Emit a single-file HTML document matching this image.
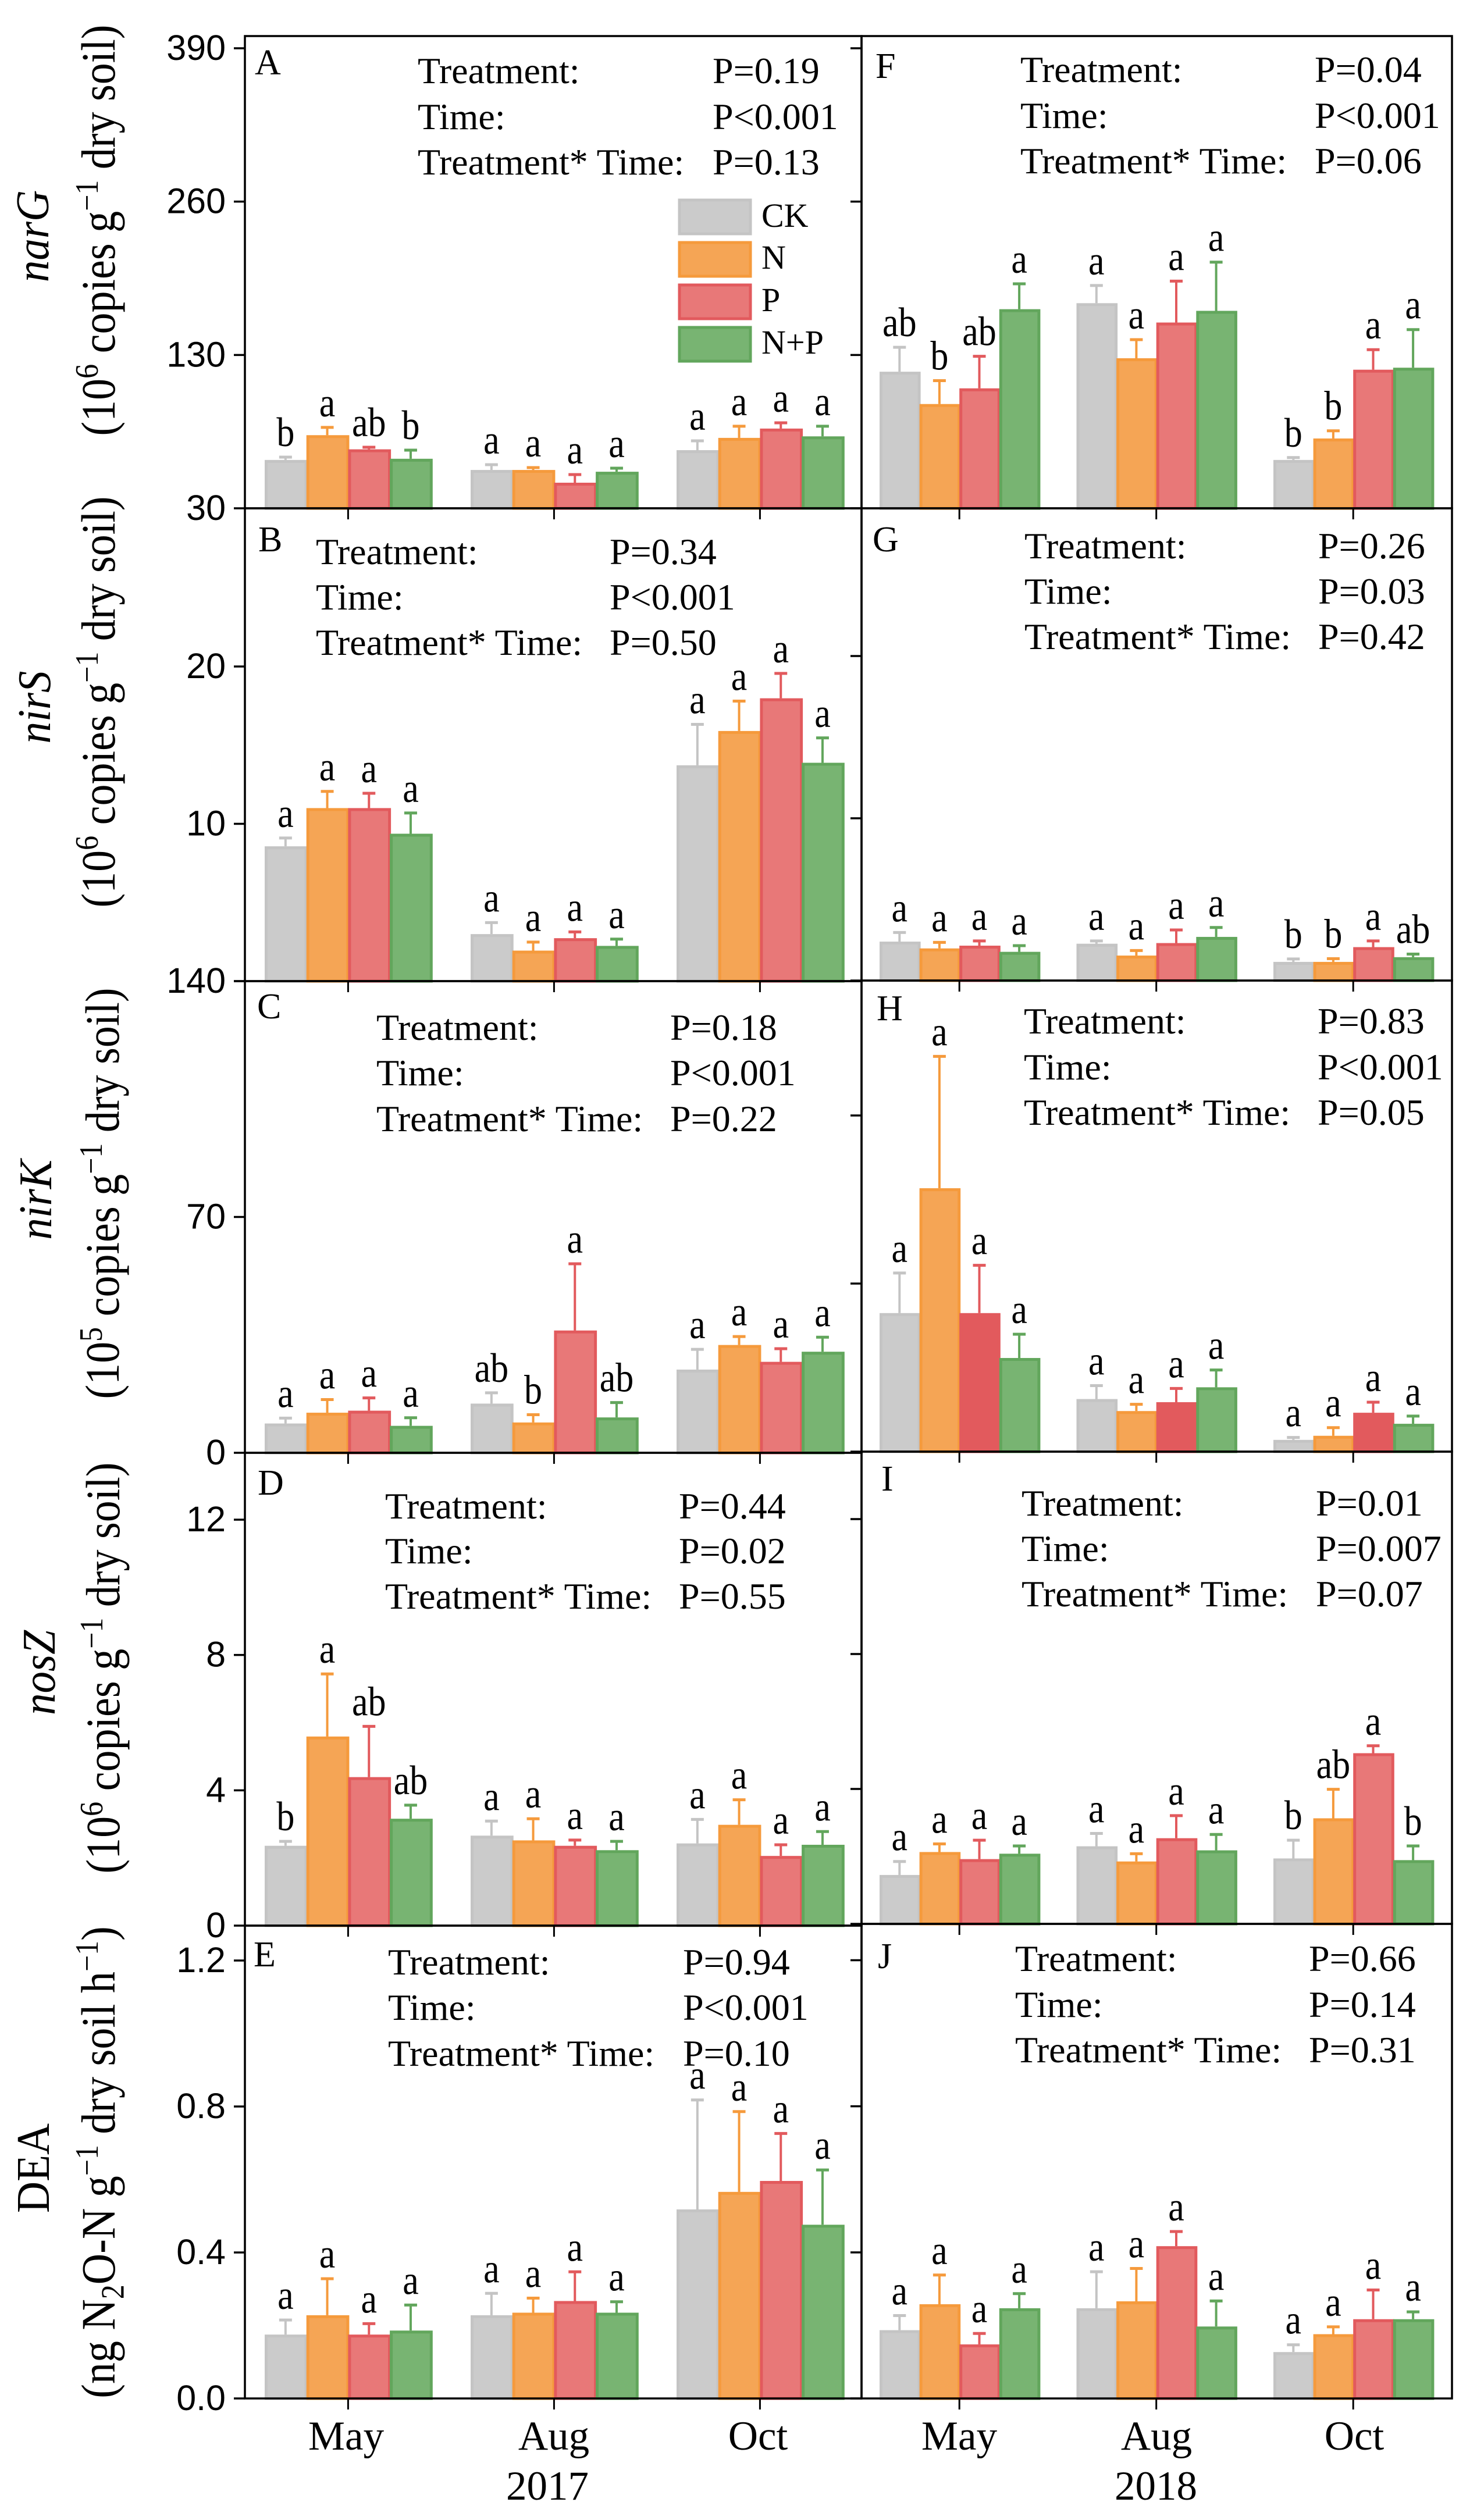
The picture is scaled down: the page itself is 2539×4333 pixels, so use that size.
<!DOCTYPE html>
<html lang="en">
<head>
<meta charset="utf-8">
<title>Denitrifying gene abundance and DEA, 2017 and 2018</title>
<style>
  html, body { margin: 0; padding: 0; background: #ffffff; }
  svg { display: block; }
  text { font-family: "Liberation Serif", serif; fill: #000; }
  .st { font-size: 64px; }
  .pl { font-size: 62px; }
  .lg { font-size: 58px; }
  .yl { font-size: 74px; }
  .gn { font-size: 75px; font-style: italic; }
  .xl { font-size: 71px; }
  .tk { font-family: "Liberation Sans", sans-serif; font-size: 61px; }
  .lt { font-size: 62px; }
</style>
</head>
<body>
<svg id="figure" xmlns="http://www.w3.org/2000/svg" width="2539" height="4333" viewBox="0 0 2539 4333">
  <rect x="0" y="0" width="2539" height="4333" fill="#ffffff"/>
  <g id="marks"></g>

  <g>
    <text class="gn" text-anchor="middle" transform="translate(83,406) rotate(-90) scale(1,1.08)">narG</text>
    <text class="yl" text-anchor="middle" transform="translate(197,396) rotate(-90) scale(1,1.12)">(10<tspan dy="-26" font-size="50">6</tspan><tspan dy="26"> copies g</tspan><tspan dy="-26" font-size="50">−1</tspan><tspan dy="26"> dry soil)</tspan></text>
    <text class="gn" text-anchor="middle" transform="translate(86,1216) rotate(-90) scale(1,1.08)">nirS</text>
    <text class="yl" text-anchor="middle" transform="translate(197,1207) rotate(-90) scale(1,1.12)">(10<tspan dy="-26" font-size="50">6</tspan><tspan dy="26"> copies g</tspan><tspan dy="-26" font-size="50">−1</tspan><tspan dy="26"> dry soil)</tspan></text>
    <text class="gn" text-anchor="middle" transform="translate(88,2063) rotate(-90) scale(1,1.08)">nirK</text>
    <text class="yl" text-anchor="middle" transform="translate(204,2052) rotate(-90) scale(1,1.12)">(10<tspan dy="-26" font-size="50">5</tspan><tspan dy="26"> copies g</tspan><tspan dy="-26" font-size="50">−1</tspan><tspan dy="26"> dry soil)</tspan></text>
    <text class="gn" text-anchor="middle" transform="translate(94,2876) rotate(-90) scale(1,1.08)">nosZ</text>
    <text class="yl" text-anchor="middle" transform="translate(205,2868) rotate(-90) scale(1,1.12)">(10<tspan dy="-26" font-size="50">6</tspan><tspan dy="26"> copies g</tspan><tspan dy="-26" font-size="50">−1</tspan><tspan dy="26"> dry soil)</tspan></text>
    <text class="gn" style="font-style:normal" text-anchor="middle" transform="translate(84,3728) rotate(-90) scale(1,1.08)">DEA</text>
    <text class="yl" text-anchor="middle" transform="translate(197,3718) rotate(-90) scale(1,1.12)">(ng N<tspan dy="14" font-size="50">2</tspan><tspan dy="-14">O-N g</tspan><tspan dy="-26" font-size="50">−1</tspan><tspan dy="26"> dry soil h</tspan><tspan dy="-26" font-size="50">−1</tspan><tspan dy="26">)</tspan></text>
  </g>

  <g>
    <text class="pl" x="438" y="128">A</text>
    <text class="pl" x="444" y="948">B</text>
    <text class="pl" x="442" y="1751">C</text>
    <text class="pl" x="443" y="2570">D</text>
    <text class="pl" x="436" y="3381">E</text>
    <text class="pl" x="1505" y="134">F</text>
    <text class="pl" x="1500" y="948">G</text>
    <text class="pl" x="1507" y="1754">H</text>
    <text class="pl" x="1515" y="2563">I</text>
    <text class="pl" x="1509" y="3384">J</text>
  </g>

  <g>
    <text class="st" x="718" y="143">Treatment:</text>
    <text class="st" x="718" y="222">Time:</text>
    <text class="st" x="718" y="300">Treatment* Time:</text>
    <text class="st" x="1225" y="143">P=0.19</text>
    <text class="st" x="1225" y="222">P&lt;0.001</text>
    <text class="st" x="1225" y="300">P=0.13</text>

    <text class="st" x="1754" y="141">Treatment:</text>
    <text class="st" x="1754" y="220">Time:</text>
    <text class="st" x="1754" y="298">Treatment* Time:</text>
    <text class="st" x="2260" y="141">P=0.04</text>
    <text class="st" x="2260" y="220">P&lt;0.001</text>
    <text class="st" x="2260" y="298">P=0.06</text>

    <text class="st" x="543" y="970">Treatment:</text>
    <text class="st" x="543" y="1048">Time:</text>
    <text class="st" x="543" y="1126">Treatment* Time:</text>
    <text class="st" x="1048" y="970">P=0.34</text>
    <text class="st" x="1048" y="1048">P&lt;0.001</text>
    <text class="st" x="1048" y="1126">P=0.50</text>

    <text class="st" x="1761" y="960">Treatment:</text>
    <text class="st" x="1761" y="1038">Time:</text>
    <text class="st" x="1761" y="1116">Treatment* Time:</text>
    <text class="st" x="2266" y="960">P=0.26</text>
    <text class="st" x="2266" y="1038">P=0.03</text>
    <text class="st" x="2266" y="1116">P=0.42</text>

    <text class="st" x="647" y="1788">Treatment:</text>
    <text class="st" x="647" y="1866">Time:</text>
    <text class="st" x="647" y="1945">Treatment* Time:</text>
    <text class="st" x="1152" y="1788">P=0.18</text>
    <text class="st" x="1152" y="1866">P&lt;0.001</text>
    <text class="st" x="1152" y="1945">P=0.22</text>

    <text class="st" x="1760" y="1777">Treatment:</text>
    <text class="st" x="1760" y="1856">Time:</text>
    <text class="st" x="1760" y="1934">Treatment* Time:</text>
    <text class="st" x="2265" y="1777">P=0.83</text>
    <text class="st" x="2265" y="1856">P&lt;0.001</text>
    <text class="st" x="2265" y="1934">P=0.05</text>

    <text class="st" x="662" y="2611">Treatment:</text>
    <text class="st" x="662" y="2688">Time:</text>
    <text class="st" x="662" y="2766">Treatment* Time:</text>
    <text class="st" x="1167" y="2611">P=0.44</text>
    <text class="st" x="1167" y="2688">P=0.02</text>
    <text class="st" x="1167" y="2766">P=0.55</text>

    <text class="st" x="1756" y="2606">Treatment:</text>
    <text class="st" x="1756" y="2684">Time:</text>
    <text class="st" x="1756" y="2762">Treatment* Time:</text>
    <text class="st" x="2262" y="2606">P=0.01</text>
    <text class="st" x="2262" y="2684">P=0.007</text>
    <text class="st" x="2262" y="2762">P=0.07</text>

    <text class="st" x="667" y="3395">Treatment:</text>
    <text class="st" x="667" y="3473">Time:</text>
    <text class="st" x="667" y="3552">Treatment* Time:</text>
    <text class="st" x="1174" y="3395">P=0.94</text>
    <text class="st" x="1174" y="3473">P&lt;0.001</text>
    <text class="st" x="1174" y="3552">P=0.10</text>

    <text class="st" x="1745" y="3389">Treatment:</text>
    <text class="st" x="1745" y="3468">Time:</text>
    <text class="st" x="1745" y="3546">Treatment* Time:</text>
    <text class="st" x="2250" y="3389">P=0.66</text>
    <text class="st" x="2250" y="3468">P=0.14</text>
    <text class="st" x="2250" y="3546">P=0.31</text>
  </g>

  <g>
    <rect x="1168" y="344" width="122" height="58" fill="#CBCBCB" stroke="#C4C4C4" stroke-width="5"/>
    <text class="lg" x="1309" y="390">CK</text>
    <rect x="1168" y="417" width="122" height="58" fill="#F5A555" stroke="#F59A3C" stroke-width="5"/>
    <text class="lg" x="1309" y="462">N</text>
    <rect x="1168" y="490" width="122" height="58" fill="#E87878" stroke="#E25A5D" stroke-width="5"/>
    <text class="lg" x="1309" y="535">P</text>
    <rect x="1168" y="563" width="122" height="58" fill="#78B472" stroke="#62A65C" stroke-width="5"/>
    <text class="lg" x="1309" y="608">N+P</text>
  </g>

  <g>
    <text class="xl" text-anchor="middle" x="595" y="4212">May</text>
    <text class="xl" text-anchor="middle" x="952" y="4212">Aug</text>
    <text class="xl" text-anchor="middle" x="1303" y="4212">Oct</text>
    <text class="xl" text-anchor="middle" x="1649" y="4212">May</text>
    <text class="xl" text-anchor="middle" x="1988" y="4212">Aug</text>
    <text class="xl" text-anchor="middle" x="2328" y="4212">Oct</text>
    <text class="xl" text-anchor="middle" x="941" y="4298">2017</text>
    <text class="xl" text-anchor="middle" x="1987" y="4298">2018</text>
  </g>
</svg>

<script>
// Chart values. Rows = May, Aug, Oct; columns = CK, N, P, N+P.
const treatments = ['ck', 'n', 'p', 'n-plus-p'];
const months = ['may', 'aug', 'oct'];

const narGTicks = [0, 130, 260, 390];
const narGTickLabels = ['30', '130', '260', '390'];
const nirSTicks = [0, 10, 20];
const nirSTickLabels = ['', '10', '20'];
const nirKTicks = [0, 70, 140];
const nirKTickLabels = ['0', '70', '140'];
const nosZTicks = [0, 4, 8, 12];
const nosZTickLabels = ['0', '4', '8', '12'];
const deaTicks = [0, 0.4, 0.8, 1.2];
const deaTickLabels = ['0.0', '0.4', '0.8', '1.2'];

const meansA = [[41, 62, 50, 42], [32.5, 32.5, 21.7, 31], [49.3, 59.7, 67.6, 61]];
const errorsA = [[2.4, 6.6, 1.8, 7.3], [4.5, 2, 6.9, 3], [7.9, 9.9, 4.9, 8.6]];
const lettersA = [['b', 'a', 'ab', 'b'], ['a', 'a', 'a', 'a'], ['a', 'a', 'a', 'a']];

const meansB = [[8.57, 11, 11, 9.37], [2.99, 1.94, 2.73, 2.24], [13.72, 15.9, 17.98, 13.88]];
const errorsB = [[0.53, 1.06, 0.94, 1.32], [0.73, 0.54, 0.4, 0.43], [2.6, 1.9, 1.58, 1.58]];
const lettersB = [['a', 'a', 'a', 'a'], ['a', 'a', 'a', 'a'], ['a', 'a', 'a', 'a']];

const meansC = [[8.7, 11.9, 12.5, 8], [14.6, 9, 36.3, 10.5], [24.7, 32, 27, 30]];
const errorsC = [[1.6, 3.9, 3.8, 2.4], [3.2, 2.3, 19.8, 4.4], [6, 2.5, 3.9, 4.3]];
const lettersC = [['a', 'a', 'a', 'a'], ['ab', 'b', 'a', 'ab'], ['a', 'a', 'a', 'a']];

const meansD = [[2.36, 5.59, 4.39, 3.16], [2.66, 2.52, 2.36, 2.23], [2.43, 2.98, 2.06, 2.39]];
const errorsD = [[0.13, 1.85, 1.5, 0.4], [0.43, 0.64, 0.17, 0.26], [0.71, 0.74, 0.33, 0.39]];
const lettersD = [['b', 'a', 'ab', 'ab'], ['a', 'a', 'a', 'a'], ['a', 'a', 'a', 'a']];

const meansE = [[0.175, 0.228, 0.175, 0.186], [0.228, 0.235, 0.267, 0.235], [0.518, 0.566, 0.596, 0.476]];
const errorsE = [[0.04, 0.1, 0.03, 0.07], [0.06, 0.04, 0.08, 0.03], [0.3, 0.22, 0.13, 0.15]];
const lettersE = [['a', 'a', 'a', 'a'], ['a', 'a', 'a', 'a'], ['a', 'a', 'a', 'a']];

const meansF = [[115.8, 88.4, 101.7, 168.8], [173.9, 127.2, 157.5, 167.4], [41, 59.2, 117.5, 119.2]];
const errorsF = [[20.7, 19.8, 27.2, 21.5], [15, 15.8, 35.1, 41.3], [2, 6.5, 17, 32.3]];
const lettersF = [['ab', 'b', 'ab', 'a'], ['a', 'a', 'a', 'a'], ['b', 'b', 'a', 'a']];

const meansG = [[2.4, 1.98, 2.15, 1.77], [2.27, 1.54, 2.31, 2.69], [1.15, 1.15, 2.06, 1.44]];
const errorsG = [[0.56, 0.37, 0.29, 0.38], [0.17, 0.31, 0.81, 0.58], [0.18, 0.2, 0.38, 0.19]];
const lettersG = [['a', 'a', 'a', 'a'], ['a', 'a', 'a', 'a'], ['b', 'b', 'a', 'ab']];

const meansH = [[57.7, 109.7, 57.7, 39], [21.9, 16.9, 20.6, 26.8], [4.9, 6.6, 16.2, 11.6]];
const errorsH = [[16.7, 54.9, 19.9, 9.9], [5.6, 2.8, 5.7, 7.2], [1, 3.4, 4.4, 3.2]];
const lettersH = [['a', 'a', 'a', 'a'], ['a', 'a', 'a', 'a'], ['a', 'a', 'a', 'a']];

const meansI = [[1.45, 2.13, 1.92, 2.08], [2.3, 1.85, 2.54, 2.18], [1.94, 3.13, 5.06, 1.89]];
const errorsI = [[0.4, 0.24, 0.56, 0.23], [0.38, 0.23, 0.67, 0.47], [0.54, 0.86, 0.22, 0.42]];
const lettersI = [['a', 'a', 'a', 'a'], ['a', 'a', 'a', 'a'], ['b', 'ab', 'a', 'b']];

const meansJ = [[0.187, 0.258, 0.148, 0.247], [0.247, 0.266, 0.417, 0.197], [0.127, 0.176, 0.217, 0.217]];
const errorsJ = [[0.04, 0.08, 0.03, 0.04], [0.1, 0.09, 0.04, 0.07], [0.02, 0.02, 0.08, 0.02]];
const lettersJ = [['a', 'a', 'a', 'a'], ['a', 'a', 'a', 'a'], ['a', 'a', 'a', 'a']];

// Layout and style, kept apart from the values above.
const fills = ['#CBCBCB', '#F5A555', '#E87878', '#78B472'];
const strokes = ['#C4C4C4', '#F59A3C', '#E25A5D', '#62A65C'];
const leftColumn = { left: 421, right: 1481, start: 455, barWidth: 71.7, pitch: 354, tickSide: true };
const rightColumn = { left: 1481, right: 2496, start: 1512, barWidth: 68.6, pitch: 338.5, tickSide: false };

const panels = [
  { id: 'a', col: leftColumn, top: 62, bottom: 874, refPx: 83, means: meansA, errors: errorsA, letters: lettersA, ticks: narGTicks, labels: narGTickLabels },
  { id: 'b', col: leftColumn, top: 874, bottom: 1687, refPx: 1146, means: meansB, errors: errorsB, letters: lettersB, ticks: nirSTicks, labels: nirSTickLabels },
  { id: 'c', col: leftColumn, top: 1687, bottom: 2498, refPx: 1687, means: meansC, errors: errorsC, letters: lettersC, ticks: nirKTicks, labels: nirKTickLabels },
  { id: 'd', col: leftColumn, top: 2498, bottom: 3311, refPx: 2613, means: meansD, errors: errorsD, letters: lettersD, ticks: nosZTicks, labels: nosZTickLabels },
  { id: 'e', col: leftColumn, top: 3311, bottom: 4124, refPx: 3371, means: meansE, errors: errorsE, letters: lettersE, ticks: deaTicks, labels: deaTickLabels },
  { id: 'f', col: rightColumn, top: 62, bottom: 874, refPx: 83, means: meansF, errors: errorsF, letters: lettersF, ticks: narGTicks },
  { id: 'g', col: rightColumn, top: 874, bottom: 1686, refPx: 1128, means: meansG, errors: errorsG, letters: lettersG, ticks: nirSTicks },
  { id: 'h', col: rightColumn, top: 1686, bottom: 2496, refPx: 1918, means: meansH, errors: errorsH, letters: lettersH, ticks: nirKTicks, pFill: '#E25A5D' },
  { id: 'i', col: rightColumn, top: 2496, bottom: 3308, refPx: 2612, means: meansI, errors: errorsI, letters: lettersI, ticks: nosZTicks },
  { id: 'j', col: rightColumn, top: 3308, bottom: 4124, refPx: 3370.5, means: meansJ, errors: errorsJ, letters: lettersJ, ticks: deaTicks }
];

const SVG_NS = 'http://www.w3.org/2000/svg';
const LETTER_GAP = 19;
const LETTER_STRETCH = 1.15;
const TICK_LEN = 19;
const root = document.getElementById('marks');

function make(tag, attrs, parent) {
  const node = document.createElementNS(SVG_NS, tag);
  for (const key in attrs) node.setAttribute(key, attrs[key]);
  parent.appendChild(node);
  return node;
}

function yScale(panel) {
  const maxTick = panel.ticks[panel.ticks.length - 1];
  const pxPerUnit = (panel.bottom - panel.refPx) / maxTick;
  return function (v) { return panel.bottom - v * pxPerUnit; };
}

function xBar(panel, m, t) {
  return panel.col.start + m * panel.col.pitch + t * panel.col.barWidth;
}

function drawPanel(panel) {
  const group = make('g', {}, root);
  
  
  const y = yScale(panel);
  const w = panel.col.barWidth;

  // whiskers first so that bars sit on top of their stems
  panel.means.forEach(function (row, m) {
    row.forEach(function (value, t) {
      const cx = xBar(panel, m, t) + w / 2;
      const topY = y(value + panel.errors[m][t]);
      const stem = make('line', { x1: cx, x2: cx, y1: y(value), y2: topY, stroke: strokes[t], 'stroke-width': 4 }, group);
      
      
      const cap = make('line', { x1: cx - 11, x2: cx + 11, y1: topY, y2: topY, stroke: strokes[t], 'stroke-width': 5 }, group);
      
      
      const letter = make('text', {
        class: 'lt', 'text-anchor': 'middle',
        transform: 'translate(' + cx + ',' + (topY - LETTER_GAP) + ') scale(1,' + LETTER_STRETCH + ')'
      }, group);
      letter.textContent = panel.letters[m][t];
      
      
    });
  });

  panel.means.forEach(function (row, m) {
    row.forEach(function (value, t) {
      const x = xBar(panel, m, t);
      const fill = (t === 2 && panel.pFill) ? panel.pFill : fills[t];
      const bar = make('rect', {
        x: x + 2.5, y: y(value) + 2.5, width: w - 3, height: Math.max(0, panel.bottom - y(value) - 2.5),
        fill: fill, stroke: strokes[t], 'stroke-width': 5
      }, group);
      
      
    });
  });

  const frame = make('rect', {
    x: panel.col.left, y: panel.top, width: panel.col.right - panel.col.left, height: panel.bottom - panel.top,
    fill: 'none', stroke: '#000', 'stroke-width': 3.5
  }, group);
  
  

  panel.ticks.forEach(function (value, i) {
    const py = y(value);
    const tick = make('line', { x1: panel.col.left - TICK_LEN, x2: panel.col.left, y1: py, y2: py, stroke: '#000', 'stroke-width': 3.5 }, group);
    
    
    if (panel.labels && panel.labels[i]) {
      const label = make('text', { class: 'tk', x: panel.col.left - 33, y: py + 20, 'text-anchor': 'end' }, group);
      label.textContent = panel.labels[i];
      
      
    }
  });

  months.forEach(function (month, m) {
    const tx = xBar(panel, m, 2);
    const tick = make('line', { x1: tx, x2: tx, y1: panel.bottom, y2: panel.bottom + TICK_LEN, stroke: '#000', 'stroke-width': 3 }, group);
    
    
  });
}

panels.forEach(drawPanel);
</script>
</body>
</html>
